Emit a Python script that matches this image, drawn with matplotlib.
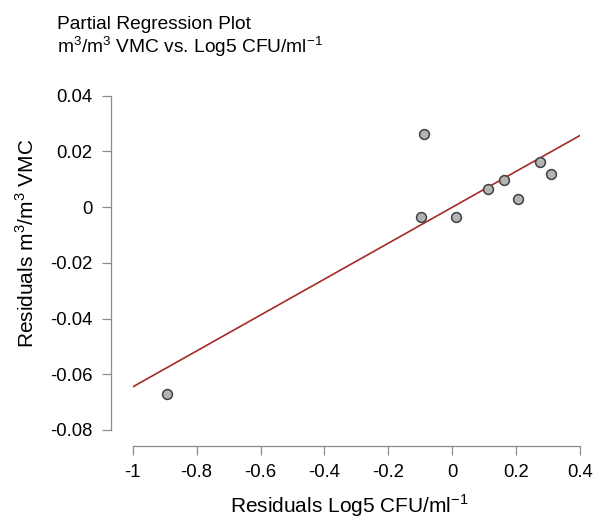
import matplotlib
matplotlib.use('Agg')
import matplotlib.pyplot as plt
import numpy as np
from matplotlib.ticker import FormatStrFormatter

plt.rcParams['font.family'] = ['Liberation Sans', 'DejaVu Sans']
plt.rcParams['mathtext.fontset'] = 'custom'
plt.rcParams['mathtext.rm'] = 'Liberation Sans'
plt.rcParams['axes.unicode_minus'] = False

# residuals
res_x = [-0.894, -0.097, -0.088, 0.012, 0.111, 0.162, 0.207, 0.275, 0.308]
res_y = [-0.0669, -0.0037, 0.0262, -0.0037, 0.0064, 0.0096, 0.0030, 0.0163, 0.0120]
x_ticks = [-1, -0.8, -0.6, -0.4, -0.2, 0, 0.2, 0.4]
y_ticks = [-0.08, -0.06, -0.04, -0.02, 0, 0.02, 0.04]

W, H = 595, 519
fig = plt.figure(figsize=(W / 100, H / 100), dpi=100)
ax = fig.add_axes([132.7 / W, 89 / H, 447.3 / W, 334.3 / H])

slope, icpt = np.polyfit(res_x, res_y, 1)
lx = np.array([x_ticks[0], x_ticks[-1]])
ax.plot(lx, slope * lx + icpt, color='#a52a2a', lw=1.2, zorder=2)
ax.scatter(res_x, res_y, s=50, facecolor='#b3b3b3', edgecolor='#404040', linewidths=1.1, zorder=3)

ax.set_xlim(x_ticks[0], x_ticks[-1])
ax.set_ylim(y_ticks[0], y_ticks[-1])
ax.set_xticks(x_ticks)
ax.set_yticks(y_ticks)
ax.xaxis.set_major_formatter(FormatStrFormatter('%g'))
ax.yaxis.set_major_formatter(FormatStrFormatter('%g'))

for s in ['top', 'right']:
	ax.spines[s].set_visible(False)
ax.spines['left'].set_position(('outward', 15.8))
ax.spines['bottom'].set_position(('outward', 11.5))
ax.spines['left'].set_bounds(y_ticks[0], y_ticks[-1])
ax.spines['bottom'].set_bounds(x_ticks[0], x_ticks[-1])
for s in ['left', 'bottom']:
	ax.spines[s].set_color('#8c8c8c')
	ax.spines[s].set_linewidth(0.9)
ax.tick_params(length=6.5, width=0.9, color='#8c8c8c', labelsize=13.3, labelcolor='black', pad=6.5)

# axis titles placed in figure pixels
fig.text(349 / W, 1 - 513 / H, 'Residuals Log5 CFU/ml$^{-1}$', fontsize=15, ha='center', va='baseline')
fig.text(34 / W, 1 - 243 / H, 'Residuals m$^{3}$/m$^{3}$ VMC', fontsize=15, rotation=90,
	ha='center', va='baseline', rotation_mode='anchor')

fig.text(57 / W, 1 - 29 / H, 'Partial Regression Plot', fontsize=13.8, va='baseline', ha='left')
fig.text(57 / W, 1 - 53 / H, 'm$^{3}$/m$^{3}$ VMC vs. Log5 CFU/ml$^{-1}$', fontsize=13.8, va='baseline', ha='left')

fig.savefig('out.png', dpi=100)
